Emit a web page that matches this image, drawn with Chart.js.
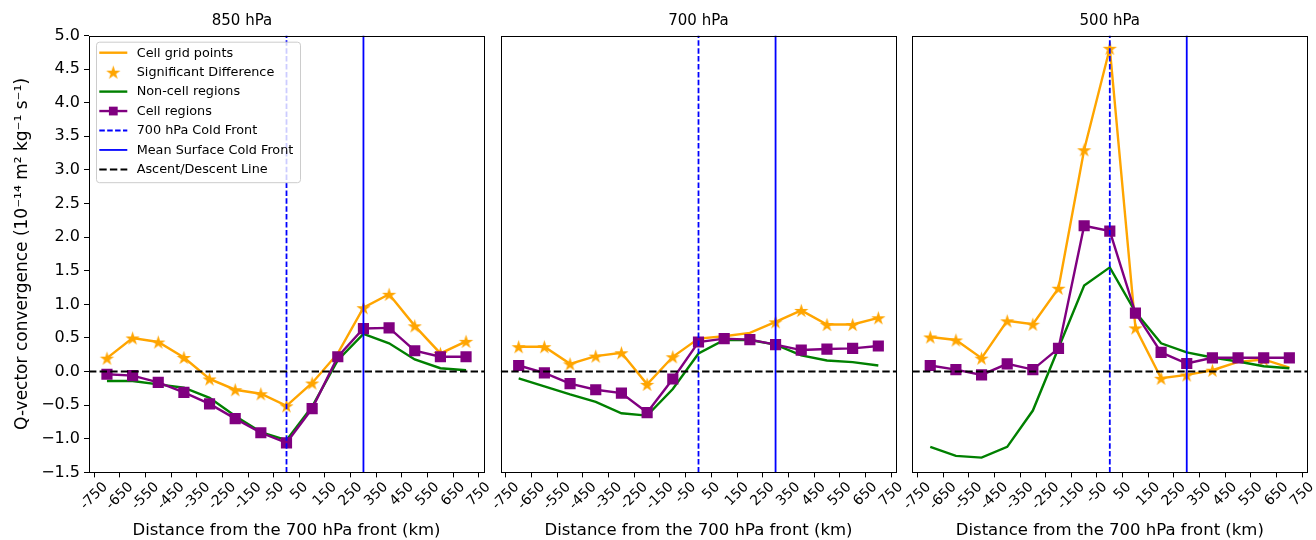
<!DOCTYPE html>
<html>
<head>
<meta charset="utf-8">
<script src="https://cdn.jsdelivr.net/npm/chart.js@4"></script>
<style>
  body { margin: 0; background: #fff; }
  #wrap { position: relative; width: 1316px; height: 540px; overflow: hidden; }
  #wrap canvas { position: absolute; top: 0; }
</style>
</head>
<body>
<div id="wrap">
  <canvas id="p850" width="500" height="540" style="left:0px"></canvas>
  <canvas id="p700" width="430" height="540" style="left:480px"></canvas>
  <canvas id="p500" width="424" height="540" style="left:892px"></canvas>
</div>
<script>
// distances from the 700 hPa front (km)
const distances = [-700, -600, -500, -400, -300, -200, -100, 0, 100, 200, 300, 400, 500, 600, 700];
const tickValues = [-750, -650, -550, -450, -350, -250, -150, -50, 50, 150, 250, 350, 450, 550, 650, 750];
const tickLabels = ['-750', '-650', '-550', '-450', '-350', '-250', '-150', '-50', '50', '150', '250', '350', '450', '550', '650', '750'];

// 850 hPa
const cell850 = [0.20, 0.50, 0.44, 0.21, -0.11, -0.27, -0.33, -0.51, -0.17, 0.27, 0.95, 1.15, 0.68, 0.27, 0.45];
const noncell850 = [-0.14, -0.14, -0.19, -0.24, -0.39, -0.66, -0.90, -1.02, -0.52, 0.17, 0.56, 0.42, 0.18, 0.05, 0.02];
const cellReg850 = [-0.04, -0.06, -0.16, -0.31, -0.48, -0.70, -0.91, -1.06, -0.55, 0.22, 0.64, 0.65, 0.31, 0.22, 0.22];
const sig850 = [1, 1, 1, 1, 1, 1, 1, 1, 1, 0, 1, 1, 1, 1, 1];

// 700 hPa
const cell700 = [0.37, 0.37, 0.115, 0.23, 0.28, -0.19, 0.22, 0.49, 0.525, 0.575, 0.74, 0.91, 0.70, 0.70, 0.80];
const noncell700 = [-0.10, -0.22, -0.34, -0.45, -0.62, -0.655, -0.26, 0.27, 0.47, 0.47, 0.40, 0.24, 0.165, 0.14, 0.09];
const cellReg700 = [0.09, -0.02, -0.18, -0.27, -0.32, -0.61, -0.11, 0.44, 0.49, 0.475, 0.40, 0.32, 0.335, 0.345, 0.38];
const sig700 = [1, 1, 1, 1, 1, 1, 1, 0, 0, 0, 1, 1, 1, 1, 1];

// 500 hPa
const cell500 = [0.515, 0.47, 0.20, 0.755, 0.705, 1.24, 3.30, 4.81, 0.65, -0.10, -0.05, 0.02, 0.145, 0.18, 0.06];
const noncell500 = [-1.12, -1.255, -1.28, -1.12, -0.58, 0.35, 1.28, 1.55, 0.885, 0.42, 0.285, 0.21, 0.15, 0.08, 0.05];
const cellReg500 = [0.09, 0.03, -0.05, 0.115, 0.03, 0.345, 2.17, 2.09, 0.87, 0.285, 0.12, 0.205, 0.205, 0.205, 0.205];
const sig500 = [1, 1, 1, 1, 1, 1, 1, 1, 1, 1, 1, 1, 0, 1, 0];

const front700 = 0;
const surfaceFront = 300;
const yMin = -1.5, yMax = 5.0;

Chart.defaults.font.family = "'DejaVu Sans', sans-serif";
Chart.defaults.color = '#000';

function makeStar(r, color) {
    const s = Math.ceil(r * 2 + 2);
    const c = document.createElement('canvas');
    c.width = s; c.height = s;
    const g = c.getContext('2d');
    g.beginPath();
    for (let i = 0; i < 10; i++) {
        const rad = i % 2 ? r * 0.382 : r;
        const a = -Math.PI / 2 + i * Math.PI / 5;
        g.lineTo(s / 2 + rad * Math.cos(a), s / 2 + rad * Math.sin(a) + r * 0.1);
    }
    g.closePath();
    g.fillStyle = color;
    g.fill();
    return c;
}
const starImg = makeStar(7.5, 'orange');

const xy = vals => vals.map((v, i) => ({ x: distances[i], y: v }));

// frame around the plot area (all four spines)
const framePlugin = {
    id: 'frame',
    afterDatasetsDraw(chart) {
        const { ctx, chartArea: a } = chart;
        ctx.save();
        ctx.strokeStyle = '#000';
        ctx.lineWidth = 1;
        const l = Math.round(a.left) + 0.5, t = Math.round(a.top) + 0.5;
        const r = Math.round(a.right) + 0.5, b = Math.round(a.bottom) + 0.5;
        ctx.strokeRect(l, t, r - l, b - t);
        ctx.restore();
    }
};

// rotated x tick labels, centred under the tick like matplotlib
const xLabelPlugin = {
    id: 'xlabels',
    afterDraw(chart) {
        const { ctx, chartArea: a } = chart;
        const xs = chart.scales.x;
        const fs = 14;
        ctx.save();
        ctx.font = fs + "px 'DejaVu Sans'";
        ctx.fillStyle = '#000';
        ctx.textAlign = 'center';
        ctx.textBaseline = 'middle';
        const top = a.bottom + 5 + 2.5;
        tickValues.forEach((v, i) => {
            const px = xs.getPixelForValue(v);
            const w = ctx.measureText(tickLabels[i]).width;
            const h = fs * 1.0;
            const half = (w + h) * Math.SQRT1_2 / 2;
            ctx.save();
            ctx.translate(px, top + half);
            ctx.rotate(-Math.PI / 4);
            ctx.fillText(tickLabels[i], 0, 0);
            ctx.restore();
        });
        ctx.restore();
    }
};

const legendPlugin = {
    id: 'qlegend',
    afterDraw(chart) {
        const { ctx, chartArea: a } = chart;
        const x0 = a.left + 7, y0 = a.top + 6.2, w = 204, h = 140.5;
        ctx.save();
        ctx.beginPath();
        ctx.roundRect(x0 + 0.5, y0 + 0.5, w, h, 3);
        ctx.fillStyle = 'rgba(255,255,255,0.8)';
        ctx.fill();
        ctx.strokeStyle = '#cccccc';
        ctx.lineWidth = 1;
        ctx.stroke();
        ctx.font = "12.8px 'DejaVu Sans'";
        ctx.textBaseline = 'middle';
        chart.data.datasets.forEach((ds, i) => {
            const y = y0 + 11 + i * 19.45;
            const hx0 = x0 + 3.3, hx1 = x0 + 31.3, hc = (hx0 + hx1) / 2;
            if (ds.showLine !== false) {
                ctx.beginPath();
                ctx.setLineDash(ds.borderDash || []);
                ctx.strokeStyle = ds.borderColor;
                ctx.lineWidth = ds.borderWidth;
                ctx.moveTo(hx0, y);
                ctx.lineTo(hx1, y);
                ctx.stroke();
                ctx.setLineDash([]);
            }
            if (ds.pointStyle === 'rect' && ds.pointRadius > 0) {
                const s = ds.pointRadius * Math.SQRT1_2;
                ctx.fillStyle = ds.backgroundColor;
                ctx.fillRect(hc - s, y - s, 2 * s, 2 * s);
            } else if (ds.pointStyle === starImg) {
                ctx.drawImage(starImg, hc - starImg.width / 2, y - starImg.height / 2);
            }
            ctx.fillStyle = '#000';
            ctx.fillText(ds.label, x0 + 40.7, y + 0.5);
        });
        ctx.restore();
    }
};

function makePanel(id, title, cell, noncell, cellReg, sig, pad, showY) {
    const stars = xy(cell).map((p, i) => sig[i] ? p : { x: p.x, y: null });
    const plugins = [framePlugin, xLabelPlugin];
    if (showY) plugins.push(legendPlugin);
    new Chart(document.getElementById(id), {
        type: 'line',
        data: {
            datasets: [{
                label: 'Cell grid points',
                data: xy(cell),
                borderColor: 'orange',
                borderWidth: 2.4,
                pointRadius: 0,
                order: 7
            },
            {
                label: 'Significant Difference',
                data: stars,
                showLine: false,
                pointStyle: starImg,
                pointRadius: 7,
                order: 6
            },
            {
                label: 'Non-cell regions',
                data: xy(noncell),
                borderColor: 'green',
                borderWidth: 2.4,
                pointRadius: 0,
                order: 5
            },
            {
                label: 'Cell regions',
                data: xy(cellReg),
                borderColor: 'purple',
                backgroundColor: 'purple',
                borderWidth: 2.4,
                pointStyle: 'rect',
                pointRadius: 6.2,
                order: 4
            },
            {
                label: '700 hPa Cold Front',
                data: [{ x: front700, y: yMin }, { x: front700, y: yMax }],
                borderColor: 'blue',
                borderWidth: 1.8,
                borderDash: [5.5, 2.4],
                pointRadius: 0,
                order: 3
            },
            {
                label: 'Mean Surface Cold Front',
                data: [{ x: surfaceFront, y: yMin }, { x: surfaceFront, y: yMax }],
                borderColor: 'blue',
                borderWidth: 1.8,
                pointRadius: 0,
                order: 2
            },
            {
                label: 'Ascent/Descent Line',
                data: [{ x: -770, y: 0 }, { x: 770, y: 0 }],
                borderColor: 'black',
                borderWidth: 2,
                borderDash: [7.4, 3.2],
                pointRadius: 0,
                order: 1
            }]
        },
        options: {
            responsive: false,
            animation: false,
            devicePixelRatio: 1,
            layout: { padding: pad },
            plugins: {
                legend: { display: false },
                tooltip: { enabled: false },
                title: {
                    display: true,
                    text: title,
                    font: { size: 15, weight: 'normal' },
                    color: '#000',
                    padding: { top: 12, bottom: 5.5 }
                }
            },
            scales: {
                x: {
                    type: 'linear',
                    min: -770,
                    max: 770,
                    afterBuildTicks: s => { s.ticks = tickValues.map(v => ({ value: v })); },
                    afterFit: s => { s.height = 67.6; },
                    ticks: { display: false },
                    grid: { drawOnChartArea: false, tickLength: 5, color: '#000' },
                    border: { display: false },
                    title: {
                        display: true,
                        text: 'Distance from the 700 hPa front (km)',
                        font: { size: 16.5 },
                        color: '#000',
                        padding: { top: 0, bottom: -1 }
                    }
                },
                y: {
                    display: showY,
                    min: yMin,
                    max: yMax,
                    afterFit: s => { if (showY) s.width = 89; },
                    ticks: {
                        stepSize: 0.5,
                        font: { size: 16 },
                        color: '#000',
                        padding: 4,
                        callback: v => (v < 0 ? '\u2212' : '') + Math.abs(v).toFixed(1)
                    },
                    grid: { drawOnChartArea: false, tickLength: 5, color: '#000' },
                    border: { display: false },
                    title: {
                        display: true,
                        text: 'Q-vector convergence (10\u207B\u00B9\u2074 m\u00B2 kg\u207B\u00B9 s\u207B\u00B9)',
                        font: { size: 17 },
                        color: '#000',
                        padding: { top: 12, bottom: 0 }
                    }
                }
            }
        },
        plugins: plugins
    });
}

makePanel('p850', '850 hPa', cell850, noncell850, cellReg850, sig850, { left: 0, right: 16, top: 0, bottom: 0 }, true);
makePanel('p700', '700 hPa', cell700, noncell700, cellReg700, sig700, { left: 20.7, right: 13.7, top: 0, bottom: 0 }, false);
makePanel('p500', '500 hPa', cell500, noncell500, cellReg500, sig500, { left: 20.3, right: 8.7, top: 0, bottom: 0 }, false);
</script>
</body>
</html>
